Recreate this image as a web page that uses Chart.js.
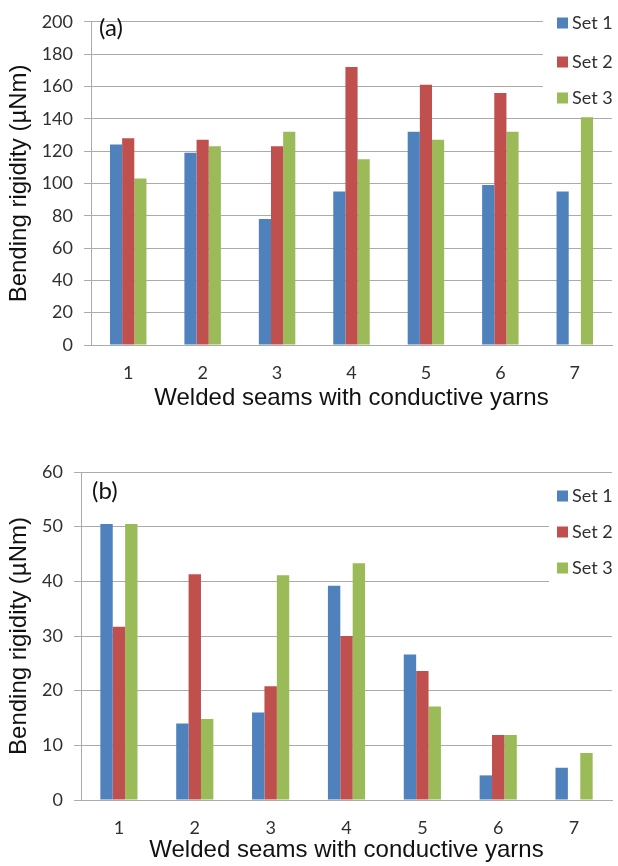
<!DOCTYPE html>
<html>
<head>
<meta charset="utf-8">
<title>Bending rigidity of welded seams</title>
<script src="https://cdn.jsdelivr.net/npm/chart.js@4/dist/chart.umd.min.js"></script>
<style>
  html, body { margin: 0; padding: 0; background: #ffffff; }
  #wrap { position: relative; width: 618px; height: 866px; background: #ffffff; }
  canvas { position: absolute; left: 0; }
  #chartA { top: 0; }
  #chartB { top: 433px; }
</style>
</head>
<body>
<div id="wrap">
  <canvas id="chartA" width="618" height="433"></canvas>
  <canvas id="chartB" width="618" height="433"></canvas>
</div>
<script>
// Seam numbers on the category axis
const seams = ['1', '2', '3', '4', '5', '6', '7'];
const seriesNames = ['Set 1', 'Set 2', 'Set 3'];
const seriesColors = ['#4F81BD', '#C0504D', '#9BBB59'];

// (a) bending rigidity, µNm
const rigidityA_set1 = [124, 119, 78, 95, 132, 99, 95];
const rigidityA_set2 = [128, 127, 123, 172, 161, 156, null];
const rigidityA_set3 = [103, 123, 132, 115, 127, 132, 141];
const ticksA = { max: 200, step: 20 };

// (b) bending rigidity, µNm
const rigidityB_set1 = [50.5, 14, 16, 39.2, 26.6, 4.5, 5.9];
const rigidityB_set2 = [31.7, 41.3, 20.8, 30, 23.6, 11.9, null];
const rigidityB_set3 = [50.5, 14.8, 41.1, 43.3, 17.1, 11.9, 8.6];
const ticksB = { max: 60, step: 10 };

const TICK_FONT = { family: 'Lato', size: 18 };
const TITLE_FONT = { family: 'Liberation Sans', size: 24 };
const GRID = '#ababab';
const TEXT = '#303030';

// Legend box painted inside the plot, plus the panel tag "(a)" / "(b)"
const panelDecor = {
  id: 'panelDecor',
  afterDraw(chart, args, opts) {
    const ctx = chart.ctx;
    ctx.save();
    ctx.fillStyle = '#ffffff';
    ctx.fillRect(opts.box.x, opts.box.y, opts.box.w, opts.box.h);
    ctx.font = '18px Lato';
    ctx.textBaseline = 'middle';
    ctx.textAlign = 'left';
    chart.data.datasets.forEach((ds, i) => {
      const cy = opts.rows[i];
      ctx.fillStyle = ds.backgroundColor;
      ctx.fillRect(557, cy - 5.5, 11, 11);
      ctx.fillStyle = TEXT;
      ctx.fillText(ds.label, 572, cy);
    });
    ctx.font = '24px Lato';
    ctx.fillStyle = '#111111';
    ctx.fillText(opts.tag, opts.tagX, opts.tagY);
    ctx.restore();
  }
};

function makeChart(id, values, ticks, cfg) {
  const datasets = values.map((v, i) => ({
    label: seriesNames[i],
    data: v,
    backgroundColor: seriesColors[i],
    borderWidth: 0,
    categoryPercentage: 0.49,
    barPercentage: 1.0
  }));
  return new Chart(document.getElementById(id), {
    type: 'bar',
    data: { labels: seams, datasets },
    plugins: [panelDecor],
    options: {
      responsive: false,
      animation: false,
      devicePixelRatio: 1,
      layout: { padding: { top: cfg.padTop, right: 6, bottom: 0, left: 0 } },
      plugins: {
        legend: { display: false },
        tooltip: { enabled: false },
        panelDecor: cfg.decor
      },
      scales: {
        x: {
          grid: { display: true, drawOnChartArea: false, drawTicks: false },
          border: { display: true, color: GRID, width: 1 },
          ticks: { font: TICK_FONT, color: TEXT, padding: cfg.xTickPad },
          title: {
            display: true,
            text: 'Welded seams with conductive yarns',
            font: TITLE_FONT,
            color: '#111111',
            padding: { top: 0, bottom: cfg.xTitlePad }
          },
          afterFit(scale) { scale.height = cfg.xHeight; }
        },
        y: {
          min: 0,
          max: ticks.max,
          grid: { color: GRID, lineWidth: 1, drawTicks: true, tickLength: 7 },
          border: { display: true, color: GRID, width: 1 },
          ticks: { stepSize: ticks.step, font: TICK_FONT, color: TEXT, padding: 11 },
          title: {
            display: true,
            text: 'Bending rigidity (µNm)',
            font: TITLE_FONT,
            color: '#111111',
            padding: { top: 5, bottom: 0 }
          },
          afterFit(scale) { scale.width = cfg.yWidth; }
        }
      }
    }
  });
}

makeChart('chartA', [rigidityA_set1, rigidityA_set2, rigidityA_set3], ticksA, {
  padTop: 16, yWidth: 91, xHeight: 88, xTickPad: 17, xTitlePad: 20,
  decor: { box: { x: 543, y: 0, w: 75, h: 108 }, rows: [23, 62, 98], tag: '(a)', tagX: 99, tagY: 28 }
});

makeChart('chartB', [rigidityB_set1, rigidityB_set2, rigidityB_set3], ticksB, {
  padTop: 39, yWidth: 81, xHeight: 66, xTickPad: 17, xTitlePad: 1,
  decor: { box: { x: 549, y: 43, w: 69, h: 124 }, rows: [63, 99, 135], tag: '(b)', tagX: 92, tagY: 58 }
});
</script>
</body>
</html>
